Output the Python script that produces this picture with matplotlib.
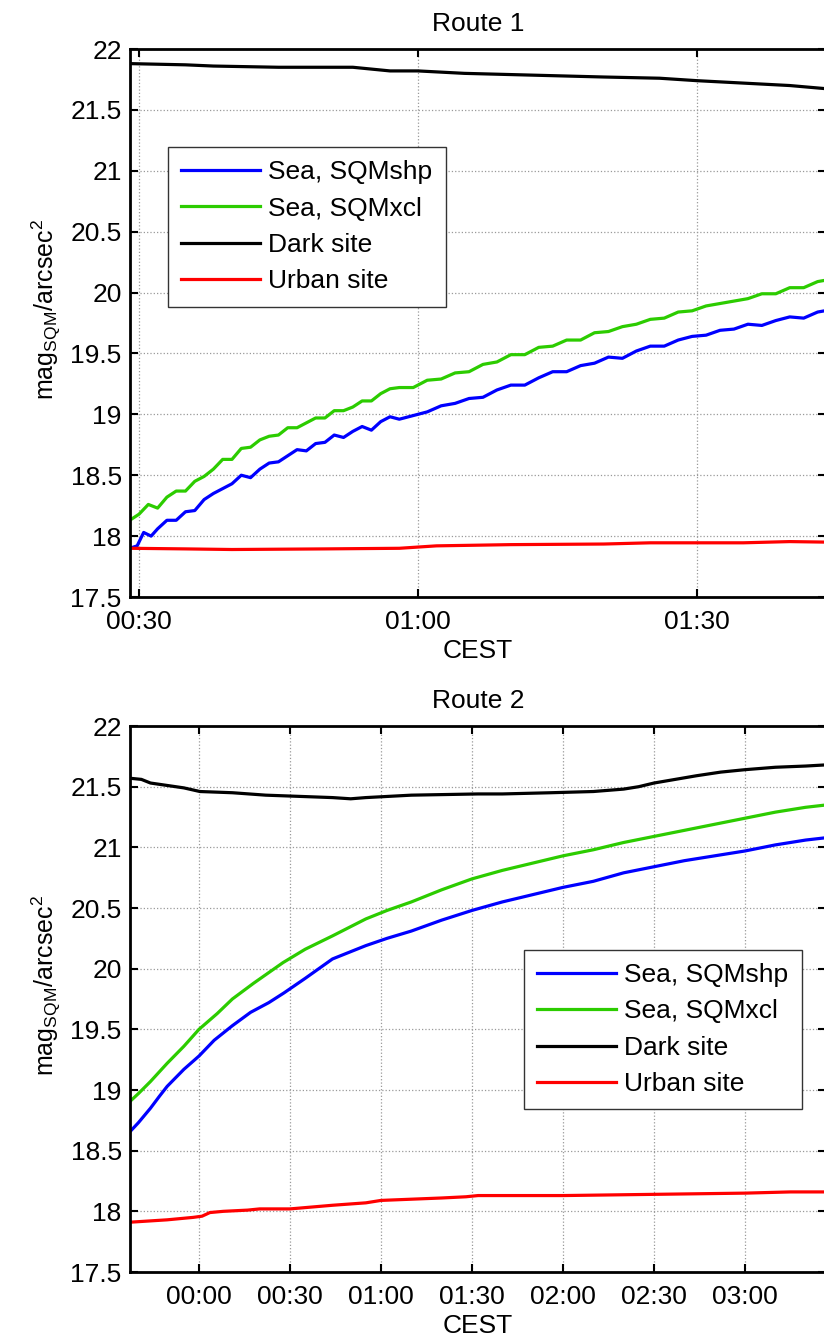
import matplotlib
matplotlib.use('Agg')
import matplotlib.pyplot as plt
from matplotlib.ticker import FuncFormatter

plt.rcParams['font.family'] = ['Liberation Sans', 'DejaVu Sans']
plt.rcParams['mathtext.fontset'] = 'custom'
plt.rcParams['mathtext.rm'] = 'Liberation Sans'
plt.rcParams['mathtext.it'] = 'Liberation Sans:italic'

# ---- Route 1 (minutes after 00:00 CEST) ----
r1_sea_shp_t = [29, 29.8, 30.5, 31.3, 32, 33, 34, 35, 36, 37, 38, 39, 40, 41, 42, 43, 44, 45, 46, 47,
                48, 49, 50, 51, 52, 53, 54, 55, 56, 57, 58, 59.5, 61, 62.5, 64, 65.5, 67, 68.5, 70, 71.5,
                73, 74.5, 76, 77.5, 79, 80.5, 82, 83.5, 85, 86.5, 88, 89.5, 91, 92.5, 94, 95.5, 97, 98.5,
                100, 101.5, 103, 104.5]
r1_sea_shp = [17.90, 17.92, 18.03, 18.00, 18.06, 18.13, 18.13, 18.20, 18.21, 18.30, 18.35, 18.39, 18.43, 18.50,
              18.48, 18.55, 18.60, 18.61, 18.66, 18.71, 18.70, 18.76, 18.77, 18.83, 18.81, 18.86, 18.90, 18.87,
              18.94, 18.98, 18.96, 18.99, 19.02, 19.07, 19.09, 19.13, 19.14, 19.20, 19.24, 19.24, 19.30, 19.35,
              19.35, 19.40, 19.42, 19.47, 19.46, 19.52, 19.56, 19.56, 19.61, 19.64, 19.65, 19.69, 19.70, 19.74,
              19.73, 19.77, 19.80, 19.79, 19.84, 19.86]

r1_sea_xcl_t = [29, 30, 31, 32, 33, 34, 35, 36, 37, 38, 39, 40, 41, 42, 43, 44, 45, 46, 47, 48,
                49, 50, 51, 52, 53, 54, 55, 56, 57, 58, 59.5, 61, 62.5, 64, 65.5, 67, 68.5, 70, 71.5, 73,
                74.5, 76, 77.5, 79, 80.5, 82, 83.5, 85, 86.5, 88, 89.5, 91, 92.5, 94, 95.5, 97, 98.5, 100,
                101.5, 103, 104.5]
r1_sea_xcl = [18.13, 18.18, 18.26, 18.23, 18.32, 18.37, 18.37, 18.45, 18.49, 18.55, 18.63, 18.63, 18.72, 18.73,
              18.79, 18.82, 18.83, 18.89, 18.89, 18.93, 18.97, 18.97, 19.03, 19.03, 19.06, 19.11, 19.11, 19.17,
              19.21, 19.22, 19.22, 19.28, 19.29, 19.34, 19.35, 19.41, 19.43, 19.49, 19.49, 19.55, 19.56, 19.61,
              19.61, 19.67, 19.68, 19.72, 19.74, 19.78, 19.79, 19.84, 19.85, 19.89, 19.91, 19.93, 19.95, 19.99,
              19.99, 20.04, 20.04, 20.09, 20.11]

r1_dark_t = [29, 35, 38, 45, 53, 57, 60, 65, 70, 80, 86, 90, 95, 100, 104.5]
r1_dark = [21.88, 21.87, 21.86, 21.85, 21.85, 21.82, 21.82, 21.80, 21.79, 21.77, 21.76, 21.74, 21.72, 21.70, 21.67]

r1_urban_t = [29, 35, 40, 50, 58, 62, 70, 80, 85, 95, 100, 104.5]
r1_urban = [17.90, 17.895, 17.89, 17.895, 17.90, 17.92, 17.93, 17.935, 17.945, 17.945, 17.955, 17.95]

# ---- Route 2 (minutes relative to 00:00 CEST) ----
r2_sea_shp_t = [-23, -20, -16, -13, -10.5, -5, 0, 5, 11, 17, 23, 28, 35, 44, 55, 62, 70, 80, 90, 100,
                110, 120, 130, 140, 150, 160, 170, 180, 190, 200, 207]
r2_sea_shp = [18.65, 18.73, 18.85, 18.95, 19.03, 19.17, 19.28, 19.41, 19.53, 19.64, 19.72, 19.80, 19.92, 20.08,
              20.19, 20.25, 20.31, 20.40, 20.48, 20.55, 20.61, 20.67, 20.72, 20.79, 20.84, 20.89, 20.93, 20.97,
              21.02, 21.06, 21.08]

r2_sea_xcl_t = [-23, -20, -16, -10.5, -5, 0, 6, 11, 18, 27.7, 35, 44, 55, 62, 70, 80, 90, 100, 110, 120,
                130, 140, 150, 160, 170, 180, 190, 200, 207]
r2_sea_xcl = [18.90, 18.97, 19.07, 19.22, 19.36, 19.50, 19.63, 19.75, 19.88, 20.05, 20.16, 20.27, 20.41, 20.48,
              20.55, 20.65, 20.74, 20.81, 20.87, 20.93, 20.98, 21.04, 21.09, 21.14, 21.19, 21.24, 21.29, 21.33,
              21.35]

r2_dark_t = [-23, -19, -16, -10.5, -5, 0.3, 11, 22, 33, 44, 50, 55, 70, 92, 100, 116, 130, 140, 145, 150,
             157, 164, 172, 180, 190, 200, 207]
r2_dark = [21.57, 21.56, 21.53, 21.51, 21.49, 21.46, 21.45, 21.43, 21.42, 21.41, 21.40, 21.41, 21.43, 21.44,
           21.44, 21.45, 21.46, 21.48, 21.50, 21.53, 21.56, 21.59, 21.62, 21.64, 21.66, 21.67, 21.68]

r2_urban_t = [-23, -10.5, -2, 1, 3.6, 8, 16, 20, 30, 44, 55, 60, 70, 80, 88, 92, 105, 120, 150, 180, 195, 207]
r2_urban = [17.91, 17.93, 17.95, 17.96, 17.99, 18.00, 18.01, 18.02, 18.02, 18.05, 18.07, 18.09, 18.10, 18.11,
            18.12, 18.13, 18.13, 18.13, 18.14, 18.15, 18.16, 18.16]

labels = ['Sea, SQMshp', 'Sea, SQMxcl', 'Dark site', 'Urban site']
colors = ['#0000ff', '#2ccc00', '#000000', '#ff0000']

routes = [
    ('Route 1', [(r1_sea_shp_t, r1_sea_shp), (r1_sea_xcl_t, r1_sea_xcl), (r1_dark_t, r1_dark), (r1_urban_t, r1_urban)],
     (29.03, 103.9), [30, 60, 90], (0.0546, 0.821)),
    ('Route 2', [(r2_sea_shp_t, r2_sea_shp), (r2_sea_xcl_t, r2_sea_xcl), (r2_dark_t, r2_dark), (r2_urban_t, r2_urban)],
     (-22.75, 206.7), [0, 30, 60, 90, 120, 150, 180], (0.566, 0.590)),
]


def hhmm(m, pos):
    m = int(round(m))
    return '%02d:%02d' % ((m // 60) % 24, m % 60)


fig = plt.figure(figsize=(8.24, 13.42), dpi=100)
axes_pos = [[130 / 824, 1 - 597 / 1342, 696 / 824, 548 / 1342],
            [130 / 824, 1 - 1272 / 1342, 696 / 824, 546 / 1342]]

for i, (title, series, xlim, xticks, leg_anchor) in enumerate(routes):
    ax = fig.add_axes(axes_pos[i])
    for (t, v), lab, c in zip(series, labels, colors):
        ax.plot(t, v, color=c, linewidth=2.3, label=lab)
    ax.set_xlim(*xlim)
    ax.set_ylim(17.5, 22)
    ax.set_xticks(xticks)
    ax.set_yticks([17.5, 18, 18.5, 19, 19.5, 20, 20.5, 21, 21.5, 22])
    ax.set_yticklabels(['17.5', '18', '18.5', '19', '19.5', '20', '20.5', '21', '21.5', '22'])
    ax.xaxis.set_major_formatter(FuncFormatter(hhmm))
    ax.tick_params(direction='in', length=6, width=1.5, labelsize=19, pad=6,
                   top=True, right=True)
    ax.tick_params(axis='x', pad=9)
    ax.grid(True, linestyle=':', color='#999999', linewidth=0.9)
    for s in ax.spines.values():
        s.set_linewidth(2)
    ax.set_title(title, fontsize=19, pad=13)
    ax.set_xlabel('CEST', fontsize=19, labelpad=4)
    ax.set_ylabel(r'mag$_{\mathrm{SQM}}$/arcsec$^{\mathrm{2}}$', fontsize=18)
    ax.yaxis.set_label_coords(-0.096, 0.525)
    leg = ax.legend(loc='upper left', bbox_to_anchor=leg_anchor, borderaxespad=0, fontsize=19,
                    fancybox=False, framealpha=1, edgecolor='#333333', handlelength=3.0,
                    handletextpad=0.3, labelspacing=0.47, borderpad=0.5)
    leg.get_frame().set_linewidth(1.0)

fig.savefig('out.png', dpi=100)
